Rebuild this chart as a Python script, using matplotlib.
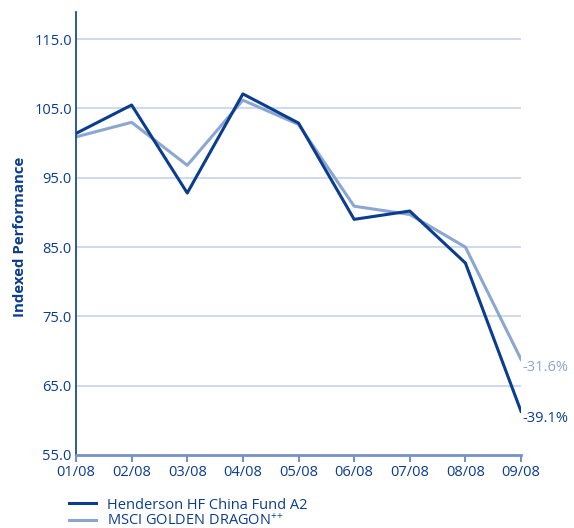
import numpy as np
import matplotlib.pyplot as plt

months = ["01/08", "02/08", "03/08", "04/08", "05/08", "06/08", "07/08", "08/08", "09/08"]
fund = [101.4, 105.5, 92.8, 107.1, 102.9, 89.0, 90.2, 82.7, 61.3]
index = [100.9, 103.0, 96.8, 106.2, 102.7, 90.9, 89.7, 85.0, 68.8]
yticks = [55.0, 65.0, 75.0, 85.0, 95.0, 105.0, 115.0]

dark = "#0B3D8F"
light = "#8BA6D0"
grid = "#C6D4EA"

plt.rcParams['font.family'] = ['Open Sans', 'DejaVu Sans']
plt.rcParams['mathtext.fontset'] = 'custom'
plt.rcParams['mathtext.rm'] = 'Open Sans'
plt.rcParams['mathtext.it'] = 'Open Sans'
plt.rcParams['mathtext.bf'] = 'Open Sans:bold'

fig = plt.figure(figsize=(5.74, 5.28), dpi=100)
ax = fig.add_axes([0.1324, 0.1383, 0.7753, 0.8387])

x = np.arange(len(months))
for yv in yticks[1:]:
    ax.axhline(yv, color=grid, lw=1.2, zorder=1)

l1, = ax.plot(x, fund, color=dark, lw=2.2, zorder=3, label="Henderson HF China Fund A2")
l2, = ax.plot(x, index, color=light, lw=2.2, zorder=2, label="MSCI GOLDEN DRAGON$^{{+}{+}}$")

ax.text(x[-1] + 0.03, index[-1] - 1.15, "-31.6%", color=light, fontsize=10.5, va="center", ha="left")
ax.text(x[-1] + 0.03, fund[-1] - 1.05, "-39.1%", color=dark, fontsize=10.5, va="center", ha="left")

ax.set_xlim(0, len(months) - 1)
ax.set_ylim(55, 118.9)
ax.set_xticks(x)
ax.set_xticklabels(months)
ax.set_yticks(yticks)
ax.set_yticklabels(["%.1f" % v for v in yticks])

for s in ["top", "right"]:
    ax.spines[s].set_visible(False)
ax.spines["left"].set_color(dark)
ax.spines["left"].set_linewidth(1.2)
ax.spines["bottom"].set_color("#7393C8")
ax.spines["bottom"].set_linewidth(2)
ax.tick_params(axis="y", length=0, pad=3, colors=dark, labelsize=10.5)
ax.tick_params(axis="x", length=5, width=1.5, color="#7393C8", pad=2, labelcolor=dark, labelsize=10.5)

ax.set_ylabel("Indexed Performance", color=dark, fontsize=10.8, fontweight="bold")
ax.yaxis.set_label_coords(-0.11, 0.492)

fig.legend(handles=[l1, l2], loc="lower left", bbox_to_anchor=(0.098, -0.027), frameon=False,
           fontsize=10.5, labelcolor=dark, handlelength=1.85, handletextpad=0.7, labelspacing=0.05)

fig.savefig("out.png", dpi=100)
